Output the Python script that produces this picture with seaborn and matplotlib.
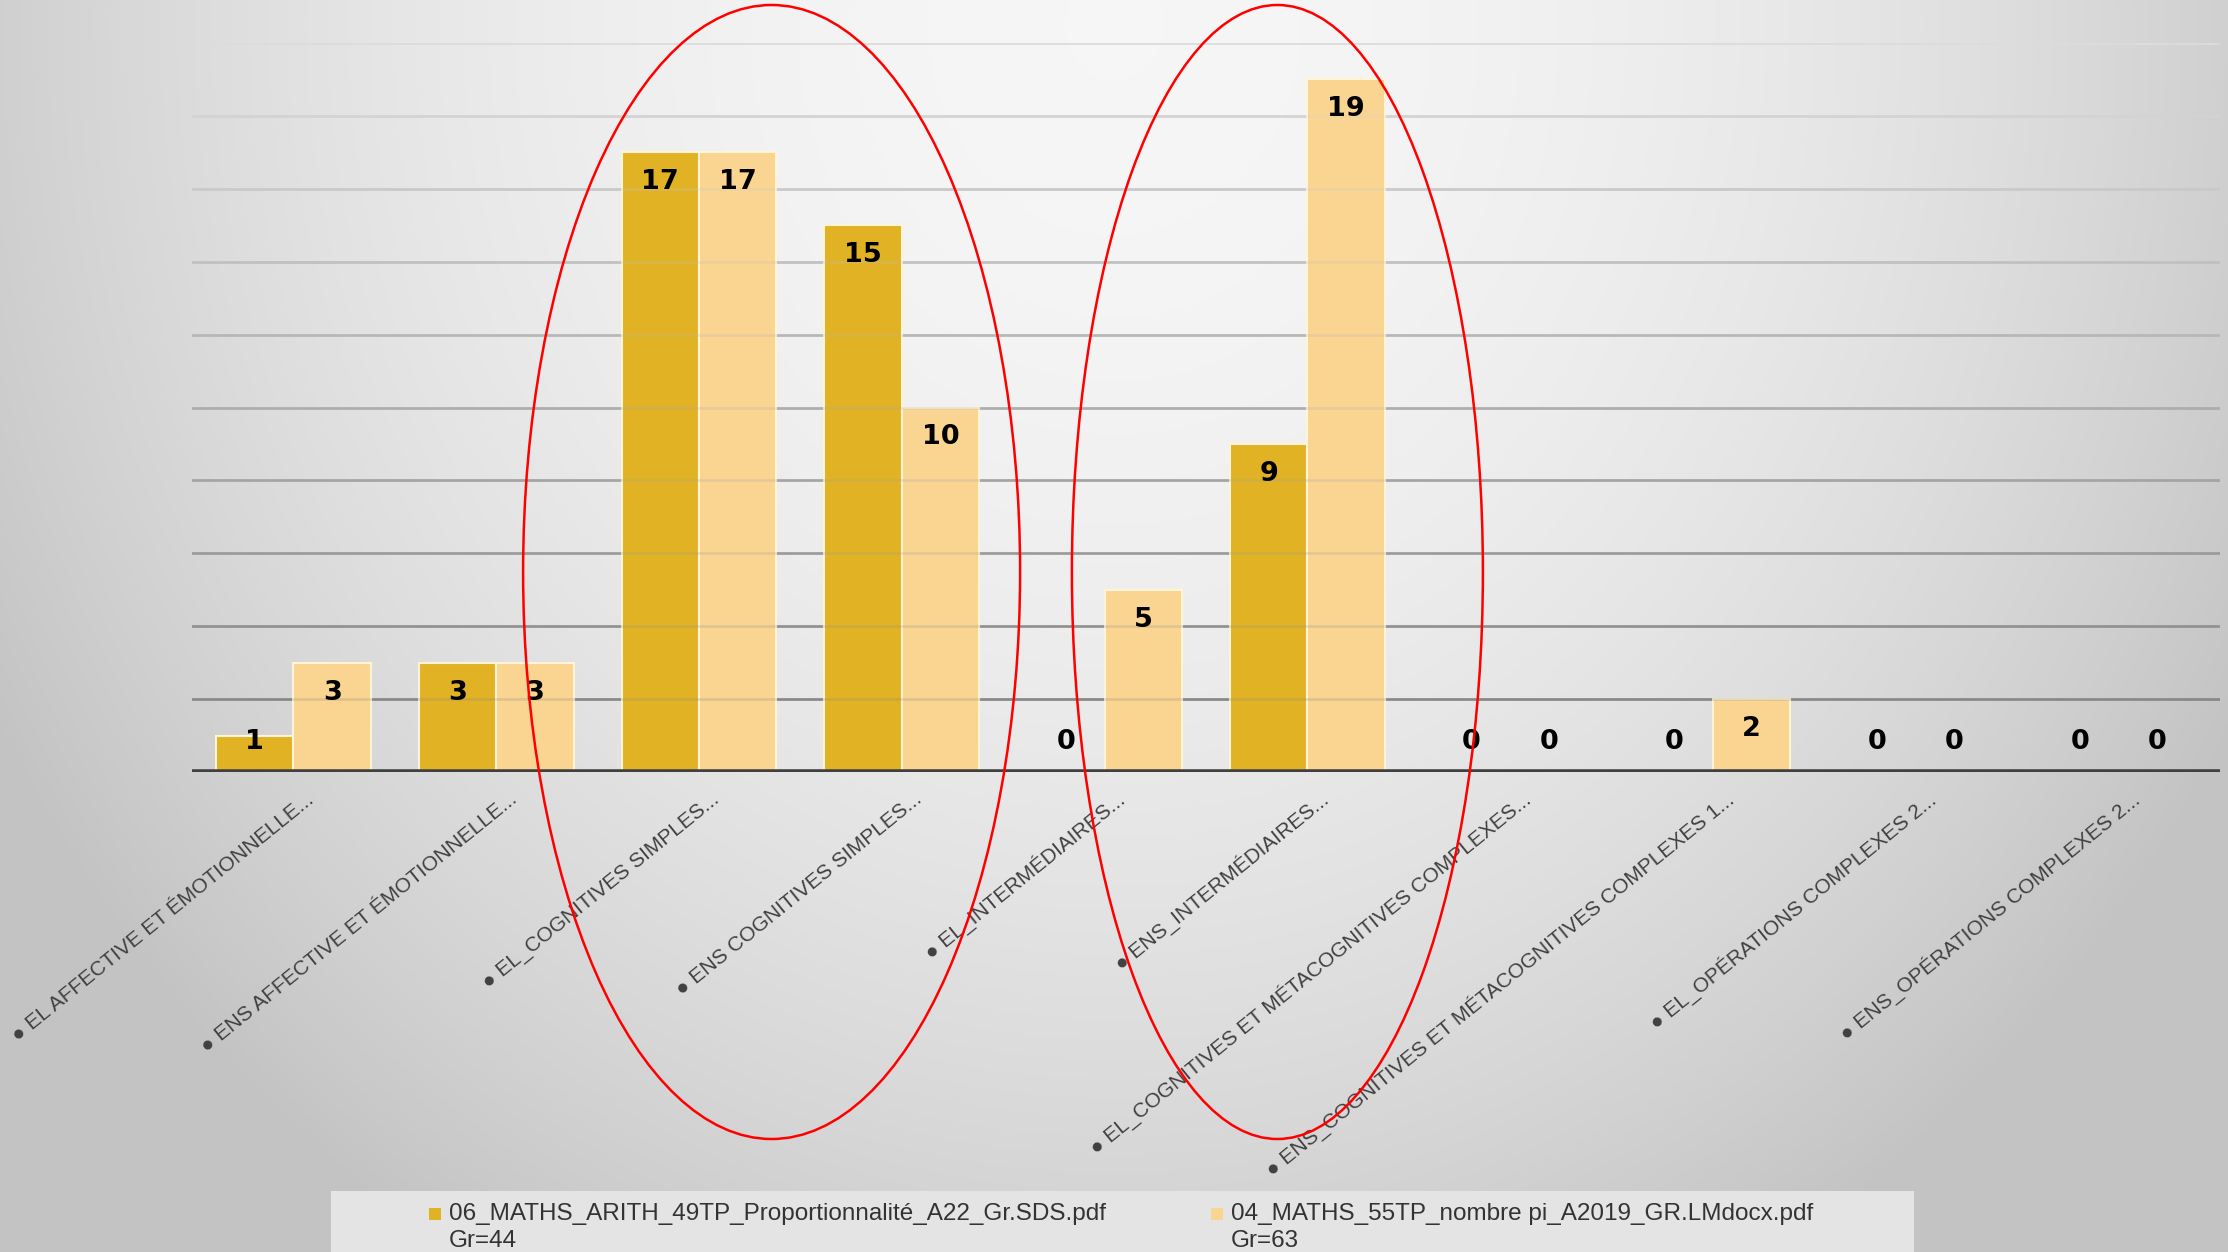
import numpy as np
import pandas as pd
import matplotlib
matplotlib.use("Agg")
import matplotlib.pyplot as plt
import seaborn as sns
from matplotlib.patches import Ellipse, Rectangle
import matplotlib.transforms as mtransforms

# ---------------- data ----------------
categories = [
    "EL AFFECTIVE ET ÉMOTIONNELLE...",
    "ENS AFFECTIVE ET ÉMOTIONNELLE...",
    "EL_COGNITIVES SIMPLES...",
    "ENS COGNITIVES SIMPLES...",
    "EL_INTERMÉDIAIRES...",
    "ENS_INTERMÉDIAIRES...",
    "EL_COGNITIVES ET MÉTACOGNITIVES COMPLEXES...",
    "ENS_COGNITIVES ET MÉTACOGNITIVES COMPLEXES 1...",
    "EL_OPÉRATIONS COMPLEXES 2...",
    "ENS_OPÉRATIONS COMPLEXES 2...",
]
series_names = [
    "06_MATHS_ARITH_49TP_Proportionnalité_A22_Gr.SDS.pdf",
    "04_MATHS_55TP_nombre pi_A2019_GR.LMdocx.pdf",
]
series_groups = ["Gr=44", "Gr=63"]
values_s1 = [1, 3, 17, 15, 0, 9, 0, 0, 0, 0]
values_s2 = [3, 3, 17, 10, 5, 19, 0, 2, 0, 0]
y_max = 20
y_grid = [2, 4, 6, 8, 10, 12, 14, 16, 18, 20]

# ---------------- style ----------------
colors = ["#E0B224", "#FAD491"]
sns.set_theme(style="white")
plt.rcParams["font.family"] = ["Liberation Sans", "DejaVu Sans"]

W, H = 2228, 1252
fig = plt.figure(figsize=(W / 100, H / 100), dpi=100)

# background gradient
yy, xx = np.mgrid[0:H, 0:W]
r2 = ((xx - 0.5 * W) / (0.5 * W)) ** 2 + ((yy - 0.02 * H) / (1.0 * H)) ** 2
v = np.clip(0.965 - 0.15 * r2, 0.765, 1.0)
fig.figimage(np.dstack([v, v, v]), 0, 0, origin="upper", zorder=0)

ax = fig.add_axes([192 / W, 1 - 772 / H, 2028 / W, (772 - 43) / H])
ax.set_facecolor("none")
ax.set_zorder(1)

df = pd.DataFrame({
    "category": categories * 2,
    "value": values_s1 + values_s2,
    "series": [series_names[0]] * len(categories) + [series_names[1]] * len(categories),
})

sns.barplot(data=df, x="category", y="value", hue="series", order=categories,
            hue_order=series_names, palette=colors, saturation=1, width=0.764,
            edgecolor="#FFF4D6", linewidth=1.5, legend=False, ax=ax, zorder=2)

# gridlines (lighter near the top)
c_lo = np.array([0x88, 0x88, 0x88]) / 255
c_hi = np.array([0xdc, 0xdc, 0xdc]) / 255
for t in y_grid:
    f = (t - y_grid[0]) / (y_grid[-1] - y_grid[0])
    c = c_lo * (1 - f) + c_hi * f
    ax.axhline(t, color=c, lw=1.9, zorder=1)
    ax.axhline(t, color=c, lw=1.9, alpha=0.25, zorder=3)
ax.axhline(0, color="#404040", lw=4, zorder=4)

ax.set_ylim(0, y_max)
ax.set_xlim(-0.5, len(categories) - 0.5)
ax.set_xticks([])
ax.set_yticks([])
ax.set_xlabel("")
ax.set_ylabel("")
for s in ax.spines.values():
    s.set_visible(False)

# value labels
for cont, vals in zip(ax.containers, [values_s1, values_s2]):
    for bar, val in zip(cont, vals):
        x = bar.get_x() + bar.get_width() / 2
        y = max(val - 0.82, 0.82)
        ax.text(x, y, str(val), ha="center", va="center", fontsize=19.5,
                fontweight="bold", family="DejaVu Sans", color="black", zorder=5)

# category labels
off = mtransforms.ScaledTranslation(18 / 100, -25 / 100, fig.dpi_scale_trans)
for i, cat in enumerate(categories):
    ax.text(i, 0, "● " + cat, rotation=39, rotation_mode="anchor", ha="right",
            va="center", transform=ax.get_xaxis_transform() + off, fontsize=15,
            color="#404040", clip_on=False)

# red ellipses
for cx, w in [(771.6, 497), (1277.4, 411)]:
    e = Ellipse((cx / W, 1 - 572 / H), w / W, 1134 / H, transform=fig.transFigure,
                fill=False, edgecolor="#ff0000", lw=1.8, zorder=10)
    fig.patches.append(e)

# legend
fig.patches.append(Rectangle((331 / W, 0), (1914 - 331) / W, (H - 1191) / H,
                             transform=fig.transFigure, fc="#e4e4e4", ec="none", zorder=1))
leg_x = [(429, 449), (1211, 1231)]
for (mx, tx), name, grp, col in zip(leg_x, series_names, series_groups, colors):
    fig.patches.append(Rectangle((mx / W, 1 - 1220 / H), 12 / W, 12 / H,
                                 transform=fig.transFigure, fc=col, ec="none", zorder=2))
    fig.text(tx / W, 1 - 1214 / H, name, ha="left", va="center", fontsize=17.5, color="#333333")
    fig.text(tx / W, 1 - 1241 / H, grp, ha="left", va="center", fontsize=17.5, color="#333333")

fig.savefig("out.png", dpi=100)
